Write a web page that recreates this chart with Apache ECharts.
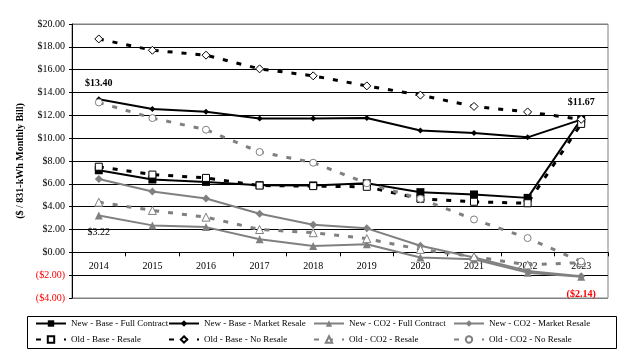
<!DOCTYPE html>
<html>
<head>
<meta charset="utf-8">
<script src="https://cdn.jsdelivr.net/npm/echarts@6/dist/echarts.min.js"></script>
<style>
html,body{margin:0;padding:0;background:#fff;}
#chart{width:624px;height:354px;}
</style>
</head>
<body>
<div id="chart"></div>
<script>
// ---- data ----
var years = ['2014','2015','2016','2017','2018','2019','2020','2021','2022','2023'];
var seriesNames = [
  'New - Base - Full Contract', 'New - Base - Market Resale',
  'New - CO2 - Full Contract', 'New - CO2 - Market Resale',
  'Old - Base - Resale', 'Old - Base - No Resale',
  'Old - CO2 - Resale', 'Old - CO2 - No Resale'
];
var newBaseFull     = [7.19, 6.38, 6.17, 5.88, 5.86, 6.05, 5.27, 5.07, 4.77, 11.67];
var newBaseMarket   = [13.40, 12.55, 12.31, 11.73, 11.73, 11.76, 10.68, 10.45, 10.07, 11.62];
var newCO2Full      = [3.22, 2.36, 2.21, 1.14, 0.55, 0.70, -0.45, -0.60, -1.78, -2.14];
var newCO2Market    = [6.43, 5.33, 4.72, 3.38, 2.42, 2.10, 0.58, -0.45, -1.63, -2.10];
var oldBaseResale   = [7.50, 6.81, 6.52, 5.85, 5.80, 5.74, 4.69, 4.43, 4.30, 11.25];
var oldBaseNoResale = [18.69, 17.70, 17.27, 16.07, 15.46, 14.58, 13.77, 12.78, 12.30, 11.65];
var oldCO2Resale    = [4.39, 3.67, 3.08, 2.00, 1.72, 1.20, 0.26, -0.38, -1.10, -0.90];
var oldCO2NoResale  = [13.13, 11.76, 10.74, 8.79, 7.85, 6.05, 4.69, 2.88, 1.25, -0.80];
var yTicks = [-4, -2, 0, 2, 4, 6, 8, 10, 12, 14, 16, 18, 20];

// ---- styling ----
var FONT = 'Liberation Serif';
var GRAY = '#808080';
var BLACK = '#000000';
var DASH = [5, 9];
var GRID_TOP = 24, GRID_BOTTOM = 56, CHART_H = 354;

function money(v) {
  var s = '$' + Math.abs(v).toFixed(2);
  return v < 0 ? '(' + s + ')' : s;
}
function withLabels(arr, labels) {
  return arr.map(function (v, i) {
    if (labels[i]) return { value: v, label: labels[i] };
    return v;
  });
}
function lbl(pos, color, bold, dist) {
  return {
    show: true, position: pos, distance: dist, color: color,
    fontFamily: FONT, fontSize: 10, fontWeight: bold ? 'bold' : 'normal',
    formatter: function (p) { return money(p.value); }
  };
}

function line(name, data, color, dashed, symbol, size, open, z) {
  return {
    name: name, type: 'line', data: data, z: z,
    symbol: symbol, symbolSize: size, showAllSymbol: true,
    lineStyle: { color: color, width: dashed ? 3 : 2, type: dashed ? DASH : 'solid' },
    itemStyle: { color: open ? '#ffffff' : color, borderColor: color, borderWidth: open ? 1 : 0 },
    emphasis: { disabled: true },
    animation: false
  };
}

var s1 = withLabels(newBaseFull, { 9: lbl('top', BLACK, true, 8) });
var s2 = withLabels(newBaseMarket, { 0: lbl('top', BLACK, true, 8) });
var s3 = withLabels(newCO2Full, { 0: lbl('bottom', BLACK, false, 8), 9: lbl('bottom', '#ff0000', true, 9) });

var series = [
  line(seriesNames[0], s1, BLACK, false, 'rect', 8, false, 2),
  line(seriesNames[1], s2, BLACK, false, 'diamond', 6, false, 2),
  line(seriesNames[2], s3, GRAY, false, 'triangle', 8, false, 2),
  line(seriesNames[3], newCO2Market, GRAY, false, 'diamond', 8, false, 2),
  line(seriesNames[4], oldBaseResale, BLACK, true, 'rect', 7, true, 3),
  line(seriesNames[5], oldBaseNoResale, BLACK, true, 'diamond', 8, true, 3),
  line(seriesNames[6], oldCO2Resale, GRAY, true, 'triangle', 8, true, 3),
  line(seriesNames[7], oldCO2NoResale, GRAY, true, 'circle', 7, true, 3)
];

var legendLeft = [35, 168, 313, 453];
var legendTop = [319, 335];
var legends = [];
seriesNames.forEach(function (n, i) {
  legends.push({
    data: [n], left: legendLeft[i % 4], top: legendTop[Math.floor(i / 4)],
    itemWidth: 30, itemHeight: 8, padding: 0, selectedMode: false,
    textStyle: { fontFamily: FONT, fontSize: 9, color: BLACK, padding: [0, 0, 0, 0] }
  });
});

var splitColors = yTicks.map(function (v, i) { return (i === 0 || i === yTicks.length - 1) ? GRAY : BLACK; });

// place the category axis on the zero line (offset from the grid bottom)
var yMin = yTicks[0], yMax = yTicks[yTicks.length - 1];
var plotH = CHART_H - GRID_TOP - GRID_BOTTOM;
var zeroOffset = -plotH * (0 - yMin) / (yMax - yMin);

var option = {
  backgroundColor: '#ffffff',
  animation: false,
  grid: { left: 72, right: 16, top: GRID_TOP, bottom: GRID_BOTTOM, show: true, borderColor: GRAY, borderWidth: 1, backgroundColor: 'transparent' },
  legend: legends,
  xAxis: {
    type: 'category', data: years, boundaryGap: true,
    position: 'bottom', offset: zeroOffset,
    axisLine: { onZero: false, lineStyle: { color: BLACK, width: 1 } },
    axisTick: { show: true, length: 4, inside: false, lineStyle: { color: BLACK } },
    axisLabel: { fontFamily: FONT, fontSize: 10, color: BLACK, margin: 9 },
    splitLine: { show: false }
  },
  yAxis: {
    type: 'value', min: yMin, max: yMax, interval: 2,
    name: '($ / 831-kWh Monthly Bill)', nameLocation: 'middle', nameGap: 44,
    nameTextStyle: { fontFamily: FONT, fontSize: 10, fontWeight: 'bold', color: BLACK },
    axisLine: { show: true, onZero: false, lineStyle: { color: BLACK, width: 1 } },
    axisTick: { show: true, length: 3, inside: false, lineStyle: { color: BLACK } },
    axisLabel: {
      fontFamily: FONT, fontSize: 10, margin: 7,
      formatter: function (v) { return money(v); },
      color: function (v) { return Number(v) < 0 ? '#ff0000' : BLACK; }
    },
    splitLine: { show: true, lineStyle: { color: splitColors, width: 1 } }
  },
  graphic: [{
    type: 'rect', shape: { x: 27.5, y: 316.5, width: 589, height: 32 },
    style: { fill: 'none', stroke: BLACK, lineWidth: 1 }, silent: true
  }],
  series: series
};

var chart = echarts.init(document.getElementById('chart'), null, { renderer: 'canvas' });
chart.setOption(option);
</script>
</body>
</html>
